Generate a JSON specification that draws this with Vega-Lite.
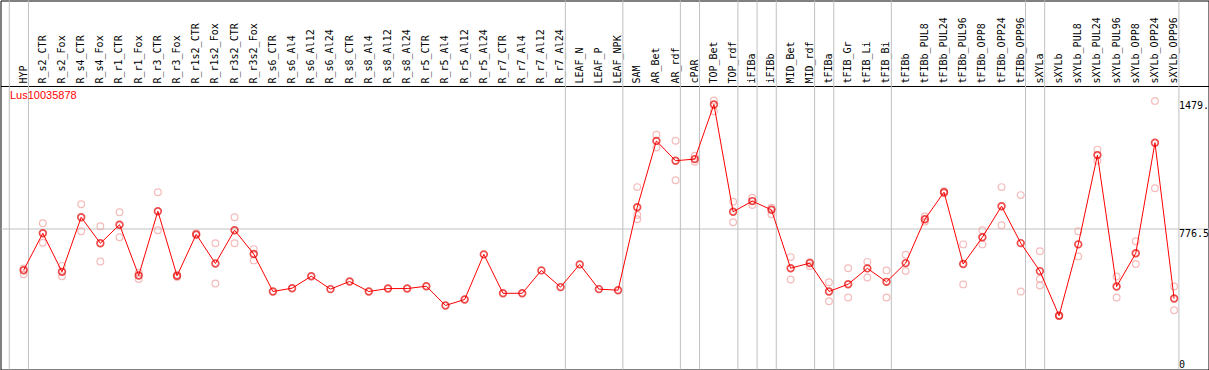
{
  "$schema": "https://vega.github.io/schema/vega-lite/v6.json",
  "width": 1208,
  "height": 369,
  "padding": {"left": 0.5, "top": 0.5, "right": 0.5, "bottom": 0.5},
  "autosize": {"type": "none"},
  "background": "white",
  "config": {"view": {"stroke": "black", "strokeWidth": 1}},
  "title": {"text": "Lus10035878", "anchor": "start", "frame": "group", "orient": "top", "offset": 0, "baseline": "top", "dx": 9.5, "dy": 101, "color": "#ff0000", "font": "Liberation Sans", "fontSize": 11, "fontWeight": "normal"},
  "datasets": {
    "means": [
      {"s": "HYP", "v": 546}, {"s": "R_s2_CTR", "v": 749}, {"s": "R_s2_Fox", "v": 537}, {"s": "R_s4_CTR", "v": 837}, {"s": "R_s4_Fox", "v": 694},
      {"s": "R_r1_CTR", "v": 796}, {"s": "R_r1_Fox", "v": 517}, {"s": "R_r3_CTR", "v": 870}, {"s": "R_r3_Fox", "v": 515}, {"s": "R_r1s2_CTR", "v": 743},
      {"s": "R_r1s2_Fox", "v": 583}, {"s": "R_r3s2_CTR", "v": 766}, {"s": "R_r3s2_Fox", "v": 635}, {"s": "R_s6_CTR", "v": 429}, {"s": "R_s6_Al4", "v": 447},
      {"s": "R_s6_Al12", "v": 513}, {"s": "R_s6_Al24", "v": 442}, {"s": "R_s8_CTR", "v": 484}, {"s": "R_s8_Al4", "v": 429}, {"s": "R_s8_Al12", "v": 445},
      {"s": "R_s8_Al24", "v": 445}, {"s": "R_r5_CTR", "v": 458}, {"s": "R_r5_Al4", "v": 352}, {"s": "R_r5_Al12", "v": 385}, {"s": "R_r5_Al24", "v": 633},
      {"s": "R_r7_CTR", "v": 419}, {"s": "R_r7_Al4", "v": 419}, {"s": "R_r7_Al12", "v": 545}, {"s": "R_r7_Al24", "v": 453}, {"s": "LEAF_N", "v": 578},
      {"s": "LEAF_P", "v": 442}, {"s": "LEAF_NPK", "v": 436}, {"s": "SAM", "v": 892}, {"s": "AR_Bet", "v": 1257}, {"s": "AR_rdf", "v": 1148},
      {"s": "cPAR", "v": 1157}, {"s": "TOP_Bet", "v": 1457}, {"s": "TOP_rdf", "v": 867}, {"s": "iFIBa", "v": 926}, {"s": "iFIBb", "v": 878},
      {"s": "MID_Bet", "v": 557}, {"s": "MID_rdf", "v": 585}, {"s": "tFIBa", "v": 429}, {"s": "tFIB_Gr", "v": 469}, {"s": "tFIB_Li", "v": 556},
      {"s": "tFIB_Bi", "v": 482}, {"s": "tFIBb", "v": 585}, {"s": "tFIBb_PUL8", "v": 826}, {"s": "tFIBb_PUL24", "v": 975}, {"s": "tFIBb_PUL96", "v": 580},
      {"s": "tFIBb_OPP8", "v": 727}, {"s": "tFIBb_OPP24", "v": 898}, {"s": "tFIBb_OPP96", "v": 695}, {"s": "sXYLa", "v": 541}, {"s": "sXYLb", "v": 296},
      {"s": "sXYLb_PUL8", "v": 688}, {"s": "sXYLb_PUL24", "v": 1179}, {"s": "sXYLb_PUL96", "v": 456}, {"s": "sXYLb_OPP8", "v": 639}, {"s": "sXYLb_OPP24", "v": 1247},
      {"s": "sXYLb_OPP96", "v": 390}
    ],
    "reps": [
      {"s": "HYP", "v": 556}, {"s": "HYP", "v": 524},
      {"s": "R_s2_CTR", "v": 804}, {"s": "R_s2_CTR", "v": 697},
      {"s": "R_s2_Fox", "v": 570}, {"s": "R_s2_Fox", "v": 513},
      {"s": "R_s4_CTR", "v": 909}, {"s": "R_s4_CTR", "v": 760},
      {"s": "R_s4_Fox", "v": 788}, {"s": "R_s4_Fox", "v": 594},
      {"s": "R_r1_CTR", "v": 865}, {"s": "R_r1_CTR", "v": 727},
      {"s": "R_r1_Fox", "v": 532}, {"s": "R_r1_Fox", "v": 498},
      {"s": "R_r3_CTR", "v": 975}, {"s": "R_r3_CTR", "v": 766},
      {"s": "R_r3_Fox", "v": 521}, {"s": "R_r3_Fox", "v": 509},
      {"s": "R_r1s2_CTR", "v": 738}, {"s": "R_r1s2_CTR", "v": 750},
      {"s": "R_r1s2_Fox", "v": 694}, {"s": "R_r1s2_Fox", "v": 473},
      {"s": "R_r3s2_CTR", "v": 837}, {"s": "R_r3s2_CTR", "v": 694},
      {"s": "R_r3s2_Fox", "v": 662}, {"s": "R_r3s2_Fox", "v": 600},
      {"s": "SAM", "v": 1003}, {"s": "SAM", "v": 850}, {"s": "SAM", "v": 826},
      {"s": "AR_Bet", "v": 1291}, {"s": "AR_Bet", "v": 1221},
      {"s": "AR_rdf", "v": 1258}, {"s": "AR_rdf", "v": 1041},
      {"s": "cPAR", "v": 1176}, {"s": "cPAR", "v": 1142},
      {"s": "TOP_Bet", "v": 1479}, {"s": "TOP_Bet", "v": 1420},
      {"s": "TOP_rdf", "v": 922}, {"s": "TOP_rdf", "v": 810},
      {"s": "iFIBa", "v": 944}, {"s": "iFIBa", "v": 904},
      {"s": "iFIBb", "v": 889}, {"s": "iFIBb", "v": 854},
      {"s": "MID_Bet", "v": 618}, {"s": "MID_Bet", "v": 495},
      {"s": "MID_rdf", "v": 592}, {"s": "MID_rdf", "v": 569},
      {"s": "tFIBa", "v": 480}, {"s": "tFIBa", "v": 375},
      {"s": "tFIB_Gr", "v": 557}, {"s": "tFIB_Gr", "v": 396},
      {"s": "tFIB_Li", "v": 592}, {"s": "tFIB_Li", "v": 506},
      {"s": "tFIB_Bi", "v": 545}, {"s": "tFIB_Bi", "v": 396},
      {"s": "tFIBb", "v": 631}, {"s": "tFIBb", "v": 541},
      {"s": "tFIBb_PUL8", "v": 841}, {"s": "tFIBb_PUL8", "v": 813},
      {"s": "tFIBb_PUL24", "v": 969}, {"s": "tFIBb_PUL24", "v": 981},
      {"s": "tFIBb_PUL96", "v": 688}, {"s": "tFIBb_PUL96", "v": 468},
      {"s": "tFIBb_OPP8", "v": 766}, {"s": "tFIBb_OPP8", "v": 688},
      {"s": "tFIBb_OPP24", "v": 1003}, {"s": "tFIBb_OPP24", "v": 793},
      {"s": "tFIBb_OPP96", "v": 959}, {"s": "tFIBb_OPP96", "v": 429},
      {"s": "sXYLa", "v": 650}, {"s": "sXYLa", "v": 498}, {"s": "sXYLa", "v": 462},
      {"s": "sXYLb", "v": 299}, {"s": "sXYLb", "v": 294},
      {"s": "sXYLb_PUL8", "v": 760}, {"s": "sXYLb_PUL8", "v": 622},
      {"s": "sXYLb_PUL24", "v": 1209}, {"s": "sXYLb_PUL24", "v": 1148},
      {"s": "sXYLb_PUL96", "v": 512}, {"s": "sXYLb_PUL96", "v": 396},
      {"s": "sXYLb_OPP8", "v": 705}, {"s": "sXYLb_OPP8", "v": 580},
      {"s": "sXYLb_OPP24", "v": 1477}, {"s": "sXYLb_OPP24", "v": 997},
      {"s": "sXYLb_OPP96", "v": 456}, {"s": "sXYLb_OPP96", "v": 326}
    ],
    "seps": [
      {"s": "HYP"}, {"s": "R_s2_CTR"}, {"s": "LEAF_N"}, {"s": "SAM"}, {"s": "cPAR"}, {"s": "TOP_Bet"}, {"s": "iFIBa"}, {"s": "iFIBb"},
      {"s": "MID_Bet"}, {"s": "tFIBa"}, {"s": "tFIB_Gr"}, {"s": "tFIBb"}, {"s": "sXYLa"}, {"s": "sXYLb"}
    ],
    "sepEnd": [{"s": "sXYLb_OPP96"}]
  },
  "layer": [
    {
      "data": {"name": "seps"},
      "mark": {"type": "rule", "color": "#c0c0c0", "strokeWidth": 1},
      "encoding": {"x": {"field": "s", "type": "nominal", "sort": null, "bandPosition": 0}}
    },
    {
      "data": {"name": "sepEnd"},
      "mark": {"type": "rule", "color": "#c0c0c0", "strokeWidth": 1},
      "encoding": {"x": {"field": "s", "type": "nominal", "sort": null, "bandPosition": 1}}
    },
    {
      "data": {"name": "reps"},
      "mark": {"type": "point", "shape": "circle", "filled": false, "color": "#f2a0a0", "strokeWidth": 1.2, "size": 45},
      "encoding": {
        "x": {"field": "s", "type": "nominal", "sort": null, "bandPosition": 0.75},
        "y": {"field": "v", "type": "quantitative"}
      }
    },
    {
      "data": {"name": "means"},
      "mark": {"type": "line", "color": "#ff0000", "strokeWidth": 1},
      "encoding": {
        "x": {"field": "s", "type": "nominal", "sort": null, "bandPosition": 0.75},
        "y": {"field": "v", "type": "quantitative"},
        "order": {"value": null}
      }
    },
    {
      "data": {"name": "means"},
      "mark": {"type": "point", "shape": "circle", "filled": false, "color": "#e80000", "strokeWidth": 1.7, "size": 45},
      "encoding": {
        "x": {
          "field": "s", "type": "nominal", "sort": null, "bandPosition": 0.75,
          "scale": {
            "type": "band",
            "domain": ["HYP","R_s2_CTR","R_s2_Fox","R_s4_CTR","R_s4_Fox","R_r1_CTR","R_r1_Fox","R_r3_CTR","R_r3_Fox","R_r1s2_CTR","R_r1s2_Fox","R_r3s2_CTR","R_r3s2_Fox","R_s6_CTR","R_s6_Al4","R_s6_Al12","R_s6_Al24","R_s8_CTR","R_s8_Al4","R_s8_Al12","R_s8_Al24","R_r5_CTR","R_r5_Al4","R_r5_Al12","R_r5_Al24","R_r7_CTR","R_r7_Al4","R_r7_Al12","R_r7_Al24","LEAF_N","LEAF_P","LEAF_NPK","SAM","AR_Bet","AR_rdf","cPAR","TOP_Bet","TOP_rdf","iFIBa","iFIBb","MID_Bet","MID_rdf","tFIBa","tFIB_Gr","tFIB_Li","tFIB_Bi","tFIBb","tFIBb_PUL8","tFIBb_PUL24","tFIBb_PUL96","tFIBb_OPP8","tFIBb_OPP24","tFIBb_OPP96","sXYLa","sXYLb","sXYLb_PUL8","sXYLb_PUL24","sXYLb_PUL96","sXYLb_OPP8","sXYLb_OPP24","sXYLb_OPP96"],
            "paddingInner": 0, "paddingOuter": 1.2895, "align": 0.2286
          },
          "axis": {
            "orient": "top", "offset": -85.5, "title": null, "bandPosition": 0.5, "labelOffset": 4.75,
            "labelAngle": -90, "labelAlign": "left", "labelBaseline": "middle",
            "labelFont": "DejaVu Sans Mono", "labelFontSize": 10, "labelColor": "black",
            "labelPadding": 3, "labelOverlap": false, "labelLimit": 200,
            "ticks": false, "grid": false, "domain": true, "domainColor": "black", "domainWidth": 1
          }
        },
        "y": {
          "field": "v", "type": "quantitative",
          "scale": {"domain": [0, 2029], "nice": false, "zero": false},
          "axis": {
            "orient": "right", "offset": -33, "title": null, "values": [0, 776.5, 1479],
            "labelExpr": "datum.value == 1479 ? '1479.' : (datum.value == 0 ? '0' : '776.5')",
            "labelFont": "DejaVu Sans Mono", "labelFontSize": 10, "labelColor": "black", "labelPadding": 3,
            "labelAlign": "left",
            "labelBaseline": {"condition": {"test": "datum.value == 0", "value": "bottom"}, "value": "top"},
            "ticks": false, "domain": false, "grid": true, "gridColor": "#c0c0c0", "gridWidth": 1,
            "gridOpacity": {"condition": {"test": "datum.value == 776.5", "value": 1}, "value": 0}
          }
        }
      }
    }
  ]
}
